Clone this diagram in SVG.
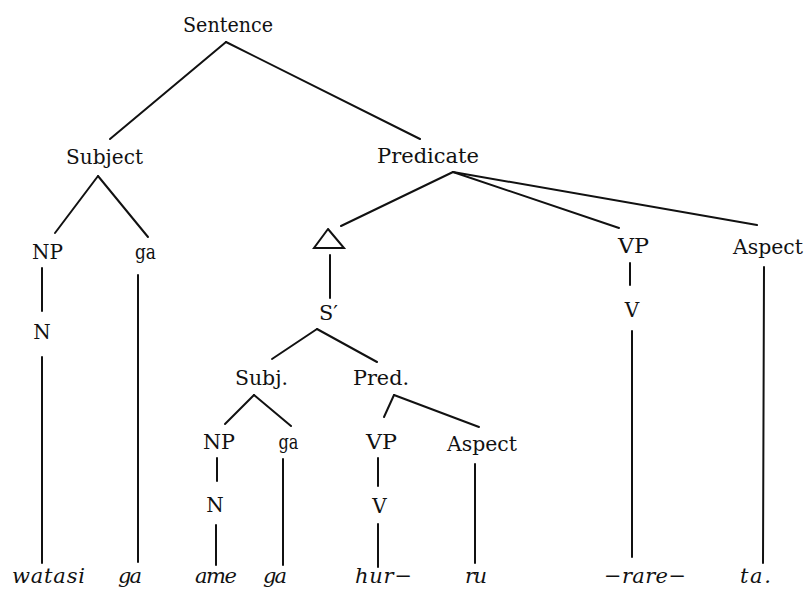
<svg xmlns="http://www.w3.org/2000/svg" width="806" height="589" viewBox="0 0 806 589">
<style>
text{font-family:"DejaVu Serif","Liberation Serif","Times New Roman",serif;fill:#111;text-anchor:middle}
.t{font-size:20px}
.w{font-size:21px;font-style:italic}
.e line,.e polyline{stroke:#111;stroke-width:2;fill:none;stroke-linecap:round}
</style>
<rect width="806" height="589" fill="#fff"/>
<g id="connectors" class="e">
<line x1="226" y1="42" x2="110" y2="139"/>
<line x1="226" y1="42" x2="420" y2="139"/>
<line x1="98" y1="176" x2="55" y2="233"/>
<line x1="98" y1="176" x2="148" y2="237"/>
<line x1="42" y1="268" x2="42" y2="311"/>
<line x1="42" y1="357" x2="42" y2="563"/>
<line x1="138" y1="275" x2="138" y2="562"/>
<line x1="453" y1="172" x2="341" y2="226"/>
<line x1="453" y1="172" x2="619" y2="228"/>
<line x1="453" y1="172" x2="757" y2="225"/>
<line x1="330" y1="255" x2="330" y2="298"/>
<line x1="317" y1="329" x2="272" y2="359"/>
<line x1="317" y1="329" x2="377" y2="362"/>
<line x1="254" y1="395" x2="225" y2="424"/>
<line x1="254" y1="395" x2="291" y2="426"/>
<line x1="217" y1="458" x2="217" y2="481"/>
<line x1="216" y1="525" x2="216" y2="565"/>
<line x1="283" y1="459" x2="283" y2="565"/>
<line x1="394" y1="395" x2="384" y2="417"/>
<line x1="394" y1="395" x2="479" y2="427"/>
<line x1="378" y1="458" x2="378" y2="486"/>
<line x1="378" y1="524" x2="378" y2="567"/>
<line x1="475" y1="464" x2="475" y2="563"/>
<line x1="630" y1="263" x2="630" y2="285"/>
<line x1="632" y1="331" x2="632" y2="557"/>
<line x1="764" y1="267" x2="763" y2="563"/>
</g>
<g id="n-sentence"><text class="t" x="228" y="32" textLength="90" lengthAdjust="spacingAndGlyphs">Sentence</text></g>
<g id="n-subject"><text class="t" x="104.5" y="164" textLength="77" lengthAdjust="spacingAndGlyphs">Subject</text></g>
<g id="n-predicate"><text class="t" x="428" y="163" textLength="102" lengthAdjust="spacingAndGlyphs">Predicate</text></g>
<g id="n-np1"><text class="t" x="47.5" y="259" textLength="31" lengthAdjust="spacingAndGlyphs">NP</text></g>
<g id="n-ga1"><text class="t" x="145.5" y="259" font-size="18" textLength="21" lengthAdjust="spacingAndGlyphs">ga</text></g>
<g id="n-n1"><text class="t" x="42" y="339">N</text></g>
<g id="n-triangle" class="e"><polyline points="328,229 314,248 344,248 328,229"/></g>
<g id="n-vp1"><text class="t" x="633.5" y="253" textLength="31" lengthAdjust="spacingAndGlyphs">VP</text></g>
<g id="n-aspect1"><text class="t" x="768" y="254" textLength="70" lengthAdjust="spacingAndGlyphs">Aspect</text></g>
<g id="n-v1"><text class="t" x="632" y="317">V</text></g>
<g id="n-sprime"><text class="t" x="328.5" y="320" textLength="19" lengthAdjust="spacingAndGlyphs">S′</text></g>
<g id="n-subj"><text class="t" x="261.5" y="385" textLength="53" lengthAdjust="spacingAndGlyphs">Subj.</text></g>
<g id="n-pred"><text class="t" x="381" y="385" textLength="56" lengthAdjust="spacingAndGlyphs">Pred.</text></g>
<g id="n-np2"><text class="t" x="219" y="449" textLength="32" lengthAdjust="spacingAndGlyphs">NP</text></g>
<g id="n-ga2"><text class="t" x="288.5" y="449" font-size="18" textLength="20" lengthAdjust="spacingAndGlyphs">ga</text></g>
<g id="n-vp2"><text class="t" x="381.5" y="449" textLength="31" lengthAdjust="spacingAndGlyphs">VP</text></g>
<g id="n-aspect2"><text class="t" x="482" y="451" textLength="70" lengthAdjust="spacingAndGlyphs">Aspect</text></g>
<g id="n-n2"><text class="t" x="215" y="512">N</text></g>
<g id="n-v2"><text class="t" x="379.5" y="513">V</text></g>
<g id="w-watasi"><text class="w" x="48.5" y="583" textLength="73" lengthAdjust="spacing">watasi</text></g>
<g id="w-ga1"><text class="w" x="130" y="583" textLength="24" lengthAdjust="spacing">ga</text></g>
<g id="w-ame"><text class="w" x="216" y="583" textLength="42" lengthAdjust="spacing">ame</text></g>
<g id="w-ga2"><text class="w" x="275" y="583" textLength="24" lengthAdjust="spacing">ga</text></g>
<g id="w-hur"><text class="w" x="383.5" y="583" textLength="57" lengthAdjust="spacing">hur−</text></g>
<g id="w-ru"><text class="w" x="476" y="583" textLength="22" lengthAdjust="spacing">ru</text></g>
<g id="w-rare"><text class="w" x="645" y="583" textLength="82" lengthAdjust="spacing">−rare−</text></g>
<g id="w-ta"><text class="w" x="755.5" y="583" textLength="31" lengthAdjust="spacing">ta.</text></g>
</svg>
